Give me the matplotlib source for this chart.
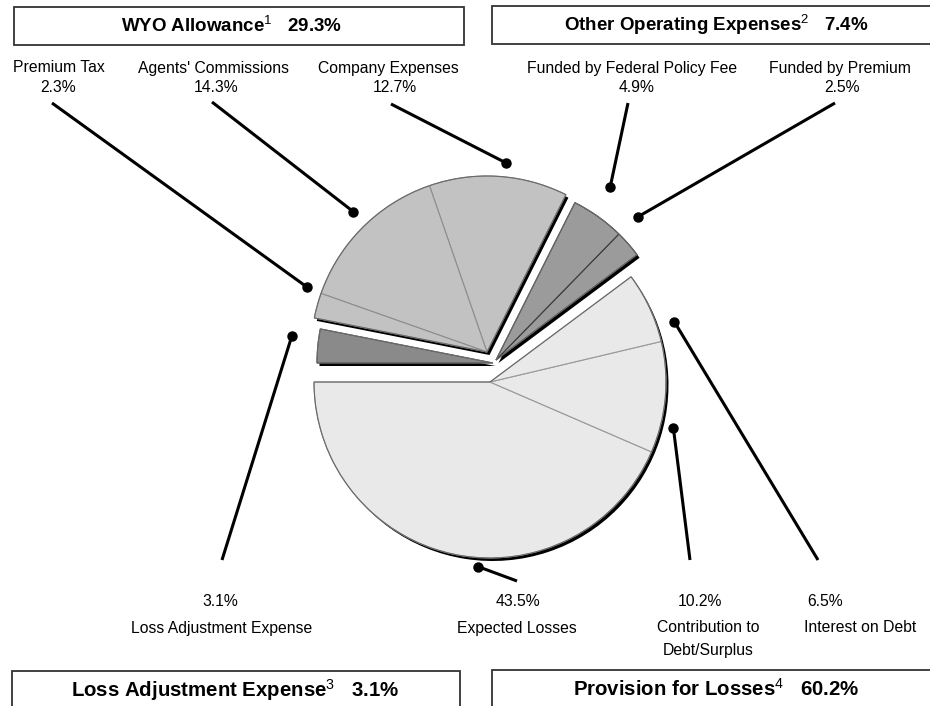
import numpy as np
import matplotlib
matplotlib.use("Agg")
import matplotlib.pyplot as plt
from matplotlib.patches import Wedge, Rectangle

# ---------------- data ----------------
slice_names = ["Expected Losses", "Contribution to\nDebt/Surplus", "Interest on Debt",
               "Funded by Premium", "Funded by Federal Policy Fee",
               "Company Expenses", "Agents' Commissions", "Premium Tax",
               "Loss Adjustment Expense"]
slice_values = [43.5, 10.2, 6.5, 2.5, 4.9, 12.7, 14.3, 2.3, 3.1]
slice_group = [3, 3, 3, 1, 1, 0, 0, 0, 2]

group_names = ["WYO Allowance", "Other Operating Expenses",
               "Loss Adjustment Expense", "Provision for Losses"]
group_notes = ["1", "2", "3", "4"]

# ---------------- style / layout ----------------
plt.rcParams['font.family'] = ['Liberation Sans', 'DejaVu Sans']
plt.rcParams['mathtext.fontset'] = 'custom'
plt.rcParams['mathtext.rm'] = 'Liberation Sans'
plt.rcParams['mathtext.bf'] = 'Liberation Sans:bold'

group_colors = ["#c2c2c2", "#9b9b9b", "#8a8a8a", "#e9e9e9"]
group_div = ["#8f8f8f", "#3a3a3a", "#555555", "#9a9a9a"]
group_offset = [(-3, -13), (6, -5), (3, -2), (0, 17)]   # pixel offsets of exploded groups
base_center = (490, 365)
R = 176
shadow_off = (2.5, 3)

# label layout: (name x, pct x, line start x, line start y, top?)
label_layout = [
    (517, 518, 517, 581, False),
    (708, 700, 690, 560, False),
    (860, 825, 818, 560, False),
    (840, 842, 835, 103, True),
    (632, 637, 628, 103, True),
    (388, 395, 391, 104, True),
    (213, 216, 212, 102, True),
    (59, 58, 52, 103, True),
    (222, 220, 222, 560, False),
]
anchor_r = [185, 189, 194, 202, 207, 190, 194, 191, 203]
anchor_nudge = [8, -9, -7, 4, 2, -2, -1.2, -4.5, -2]

boxes = [(14, 7, 450, 38), (492, 6, 460, 38), (12, 671, 448, 60), (492, 670, 460, 60)]
box_text_pos = [(232, 26), (716, 25), (235, 690), (716, 689)]
box_fs = [13.5, 13.5, 14.7, 14.7]

fig = plt.figure(figsize=(9.3, 7.06), dpi=100)
ax = fig.add_axes([0, 0, 1, 1])
ax.set_xlim(0, 930)
ax.set_ylim(706, 0)
ax.axis('off')

vals = np.array(slice_values)
starts = 180 + 3.6 * np.concatenate([[0], np.cumsum(vals)[:-1]])
ends = starts + 3.6 * vals

def gcenter(g):
    return (base_center[0] + group_offset[g][0], base_center[1] + group_offset[g][1])

def grange(g):
    idx = [i for i in range(len(vals)) if slice_group[i] == g]
    return starts[idx[0]], ends[idx[-1]]

# group shadows
for g in range(len(group_names)):
    t1, t2 = grange(g)
    cx, cy = gcenter(g)
    ax.add_patch(Wedge((cx + shadow_off[0], cy + shadow_off[1]), R, -t2, -t1,
                       facecolor='black', edgecolor='none', zorder=1))

# slices
for i, v in enumerate(vals):
    g = slice_group[i]
    cx, cy = gcenter(g)
    ax.add_patch(Wedge((cx, cy), R, -ends[i], -starts[i], facecolor=group_colors[g],
                       edgecolor=group_div[g], linewidth=0.8, zorder=2))

# group outlines
for g in range(len(group_names)):
    t1, t2 = grange(g)
    cx, cy = gcenter(g)
    ax.add_patch(Wedge((cx, cy), R, -t2, -t1, facecolor='none',
                       edgecolor='#6a6a6a', linewidth=0.8, zorder=3))

# leader lines and labels
fs = 11.3
for i, v in enumerate(vals):
    g = slice_group[i]
    cx, cy = gcenter(g)
    ang = np.deg2rad((starts[i] + ends[i]) / 2 + anchor_nudge[i])
    ax_x = cx + anchor_r[i] * np.cos(ang)
    ax_y = cy - anchor_r[i] * np.sin(ang)
    nx, px, lx, ly, top = label_layout[i]
    ax.plot([lx, ax_x], [ly, ax_y], color='black', lw=2.2, solid_capstyle='butt', zorder=4)
    ax.plot([ax_x], [ax_y], 'o', color='black', ms=6.5, zorder=5)
    pct = f"{v:.1f}%"
    if top:
        ax.text(nx, 68, slice_names[i], ha='center', va='center', fontsize=fs)
        ax.text(px, 88, pct, ha='center', va='center', fontsize=fs)
    else:
        ax.text(px, 602, pct, ha='center', va='center', fontsize=fs)
        for k, line in enumerate(slice_names[i].split("\n")):
            ax.text(nx, 628 + 22 * k, line, ha='center', va='center', fontsize=fs)

# group boxes
for g in range(len(group_names)):
    x, y, w, h = boxes[g]
    ax.add_patch(Rectangle((x, y), w, h, facecolor='white', edgecolor='#333333',
                           linewidth=1.3, zorder=1))
    total = sum(v for v, sg in zip(slice_values, slice_group) if sg == g)
    tx, ty = box_text_pos[g]
    ax.text(tx, ty, f"{group_names[g]}$^{{{group_notes[g]}}}$   {total:.1f}%",
            ha='center', va='center', fontsize=box_fs[g], fontweight='bold', zorder=2)

fig.savefig("out.png", dpi=100)
